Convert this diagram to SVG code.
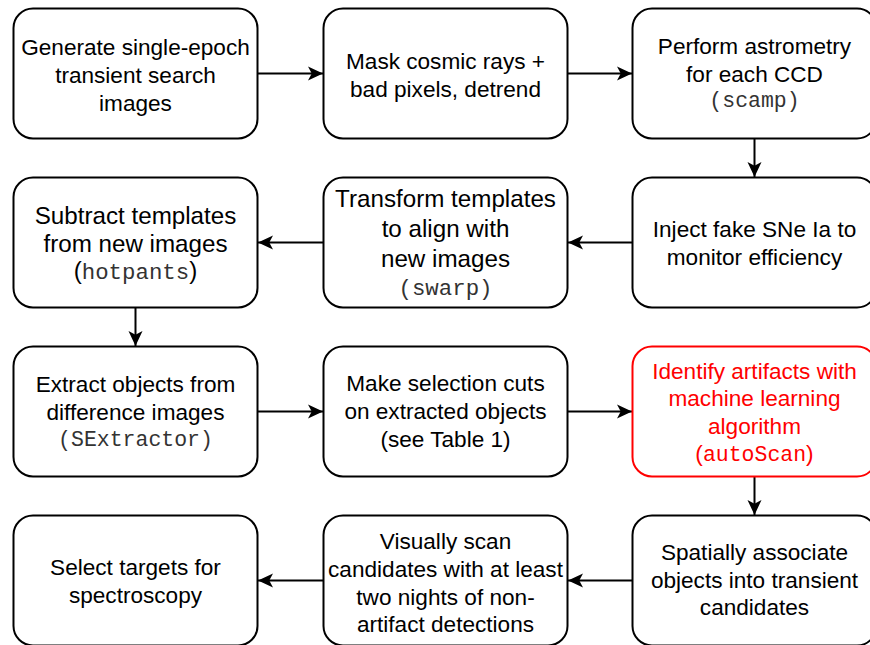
<svg xmlns="http://www.w3.org/2000/svg" width="870" height="645" viewBox="0 0 870 645">
<defs>
<style>
.box{fill:#fff;stroke:#000;stroke-width:2}
.red{stroke:#ff0000}
.t{font-family:"Liberation Sans",Arial,Helvetica,sans-serif;font-size:22.6px;fill:#000;text-anchor:middle}
.big{font-size:24.2px}
.rt{fill:#ff0000}
.m{font-family:"Liberation Mono","Courier New",monospace;font-size:21.5px;fill:#333}
.bm{font-size:22.4px}
.rm{fill:#ff0000}
.c{stroke:#000;stroke-width:2;fill:none;marker-end:url(#ah)}
</style>
<marker id="ah" markerUnits="userSpaceOnUse" markerWidth="16" markerHeight="16" refX="15" refY="8" orient="auto">
<path d="M0,1 L15,8 L0,15 L3.75,8 Z" fill="#000"/>
</marker>
</defs>
<rect width="870" height="645" fill="#fff"/>
<g id="connectors">
<line class="c" x1="258" y1="73.5" x2="323" y2="73.5"/>
<line class="c" x1="568" y1="73.5" x2="632" y2="73.5"/>
<line class="c" x1="754.5" y1="139" x2="754.5" y2="177"/>
<line class="c" x1="632" y1="242.5" x2="568" y2="242.5"/>
<line class="c" x1="323" y1="242.5" x2="258" y2="242.5"/>
<line class="c" x1="135.5" y1="308" x2="135.5" y2="346"/>
<line class="c" x1="258" y1="411.5" x2="323" y2="411.5"/>
<line class="c" x1="568" y1="411.5" x2="632" y2="411.5"/>
<line class="c" x1="754.5" y1="477" x2="754.5" y2="515"/>
<line class="c" x1="632" y1="580.5" x2="568" y2="580.5"/>
<line class="c" x1="323" y1="580.5" x2="258" y2="580.5"/>
</g>
<g id="n1">
<rect class="box" x="13.5" y="8.5" width="244" height="130" rx="19.5"/>
<text class="t" x="135.5" y="55">Generate single-epoch</text>
<text class="t" x="135.5" y="83">transient search</text>
<text class="t" x="135.5" y="110.5">images</text>
</g>
<g id="n2">
<rect class="box" x="323.5" y="8.5" width="244" height="130" rx="19.5"/>
<text class="t" x="445.5" y="69">Mask cosmic rays +</text>
<text class="t" x="445.5" y="97">bad pixels, detrend</text>
</g>
<g id="n3">
<rect class="box" x="632.5" y="8.5" width="244" height="130" rx="19.5"/>
<text class="t" x="754.5" y="54">Perform astrometry</text>
<text class="t" x="754.5" y="82">for each CCD</text>
<text class="t m" x="754.5" y="107">(scamp)</text>
</g>
<g id="n4">
<rect class="box" x="632.5" y="177.5" width="244" height="130" rx="19.5"/>
<text class="t" x="754.5" y="237">Inject fake SNe Ia to</text>
<text class="t" x="754.5" y="265">monitor efficiency</text>
</g>
<g id="n5">
<rect class="box" x="323.5" y="177.5" width="244" height="130" rx="19.5"/>
<text class="t big" x="445.5" y="207">Transform templates</text>
<text class="t big" x="445.5" y="237">to align with</text>
<text class="t big" x="445.5" y="267">new images</text>
<text class="t m bm" x="445.5" y="295">(swarp)</text>
</g>
<g id="n6">
<rect class="box" x="13.5" y="177.5" width="244" height="130" rx="19.5"/>
<text class="t big" x="135.5" y="223.5">Subtract templates</text>
<text class="t big" x="135.5" y="251.5">from new images</text>
<text class="t big" x="135.5" y="279">(<tspan class="m bm">hotpants</tspan>)</text>
</g>
<g id="n7">
<rect class="box" x="13.5" y="346.5" width="244" height="130" rx="19.5"/>
<text class="t" x="135.5" y="391.5">Extract objects from</text>
<text class="t" x="135.5" y="420">difference images</text>
<text class="t m" x="135.5" y="446">(SExtractor)</text>
</g>
<g id="n8">
<rect class="box" x="323.5" y="346.5" width="244" height="130" rx="19.5"/>
<text class="t" x="445.5" y="391">Make selection cuts</text>
<text class="t" x="445.5" y="419">on extracted objects</text>
<text class="t" x="445.5" y="446.5">(see Table 1)</text>
</g>
<g id="n9">
<rect class="box red" x="632.5" y="346.5" width="244" height="130" rx="19.5"/>
<text class="t rt" x="754.5" y="378.5">Identify artifacts with</text>
<text class="t rt" x="754.5" y="406">machine learning</text>
<text class="t rt" x="754.5" y="433.5">algorithm</text>
<text class="t rt" x="754.5" y="461">(<tspan class="m rm">autoScan</tspan>)</text>
</g>
<g id="n10">
<rect class="box" x="632.5" y="515.5" width="244" height="130" rx="19.5"/>
<text class="t" x="754.5" y="560">Spatially associate</text>
<text class="t" x="754.5" y="587.5">objects into transient</text>
<text class="t" x="754.5" y="615">candidates</text>
</g>
<g id="n11">
<rect class="box" x="323.5" y="515.5" width="244" height="130" rx="19.5"/>
<text class="t" x="445.5" y="548.5">Visually scan</text>
<text class="t" x="445.5" y="576.5">candidates with at least</text>
<text class="t" x="445.5" y="604.5">two nights of non-</text>
<text class="t" x="445.5" y="632">artifact detections</text>
</g>
<g id="n12">
<rect class="box" x="13.5" y="515.5" width="244" height="130" rx="19.5"/>
<text class="t" x="135.5" y="575">Select targets for</text>
<text class="t" x="135.5" y="602.5">spectroscopy</text>
</g>
</svg>
